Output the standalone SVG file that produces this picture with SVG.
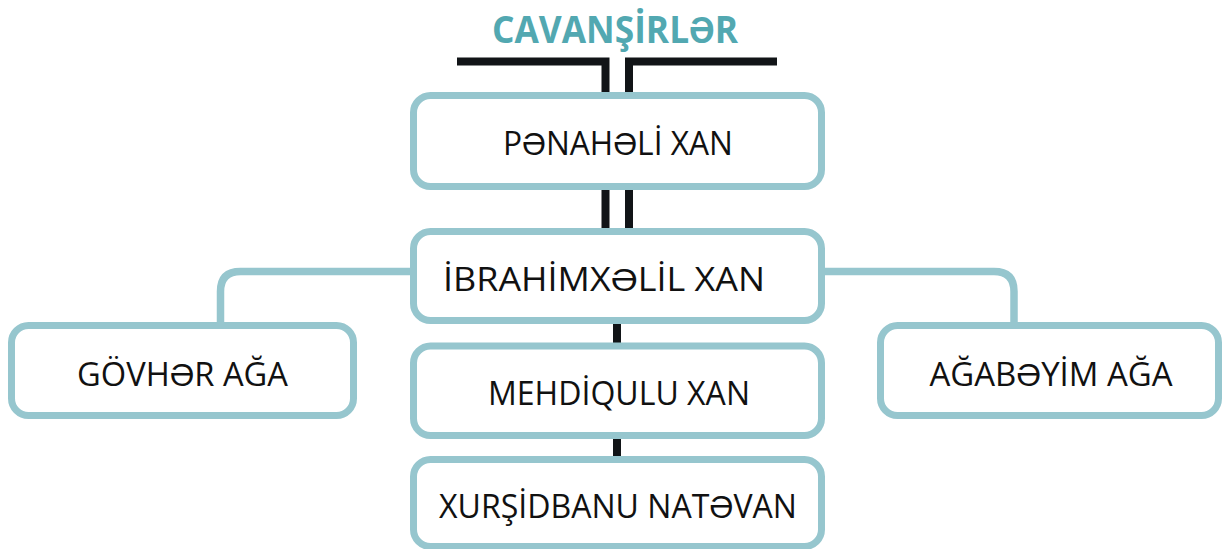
<svg xmlns="http://www.w3.org/2000/svg" width="1222" height="549" viewBox="0 0 1222 549">
<style>
.box{fill:#fff;stroke:#96c6ce;stroke-width:7}
.lbl{font-family:"Open Sans","Liberation Sans",sans-serif;font-size:32px;fill:#111;text-anchor:middle}
.blk{fill:none;stroke:#111417;stroke-width:8}
.tl{fill:none;stroke:#96c6ce;stroke-width:7.5}
</style>
<rect width="1222" height="549" fill="#fff"/>
<text x="615" y="43" font-family="'Open Sans','Liberation Sans',sans-serif" font-weight="bold" font-size="37" fill="#52a8b1" text-anchor="middle" textLength="246" lengthAdjust="spacingAndGlyphs">CAVANŞİRLƏR</text>
<g id="connectors">
<path class="blk" d="M457 61.5H605.5V96"/>
<path class="blk" d="M777 61.5H629V96"/>
<path class="blk" d="M605.5 186V232M629 186V232"/>
<path class="blk" d="M617 320V347M617 435V460" stroke-width="7.5"/>
<path class="tl" d="M414 271.5H240.5Q220.5 271.5 220.5 291.5V326"/>
<path class="tl" d="M821 271.5H994Q1014 271.5 1014 291.5V326"/>
</g>
<g id="n1"><rect class="box" x="413.5" y="95.5" width="408" height="91" rx="17"/><text class="lbl" x="618" y="155" textLength="230" lengthAdjust="spacingAndGlyphs">PƏNAHƏLİ XAN</text></g>
<g id="n2"><rect class="box" x="413.5" y="231.5" width="408" height="89" rx="17"/><text class="lbl" x="604" y="291" textLength="322" lengthAdjust="spacingAndGlyphs">İBRAHİMXƏLİL XAN</text></g>
<g id="n3"><rect class="box" x="11.5" y="325.5" width="342" height="90" rx="17"/><text class="lbl" x="182.5" y="386" textLength="211" lengthAdjust="spacingAndGlyphs">GÖVHƏR AĞA</text></g>
<g id="n4"><rect class="box" x="880.5" y="325.5" width="338" height="90" rx="17"/><text class="lbl" x="1051" y="386" textLength="243" lengthAdjust="spacingAndGlyphs">AĞABƏYİM AĞA</text></g>
<g id="n5"><rect class="box" x="413.5" y="346" width="408" height="89.5" rx="17"/><text class="lbl" x="619" y="405" textLength="262" lengthAdjust="spacingAndGlyphs">MEHDİQULU XAN</text></g>
<g id="n6"><rect class="box" x="413.5" y="459.5" width="408" height="87" rx="17"/><text class="lbl" x="618" y="518" textLength="358" lengthAdjust="spacingAndGlyphs">XURŞİDBANU NATƏVAN</text></g>
</svg>
